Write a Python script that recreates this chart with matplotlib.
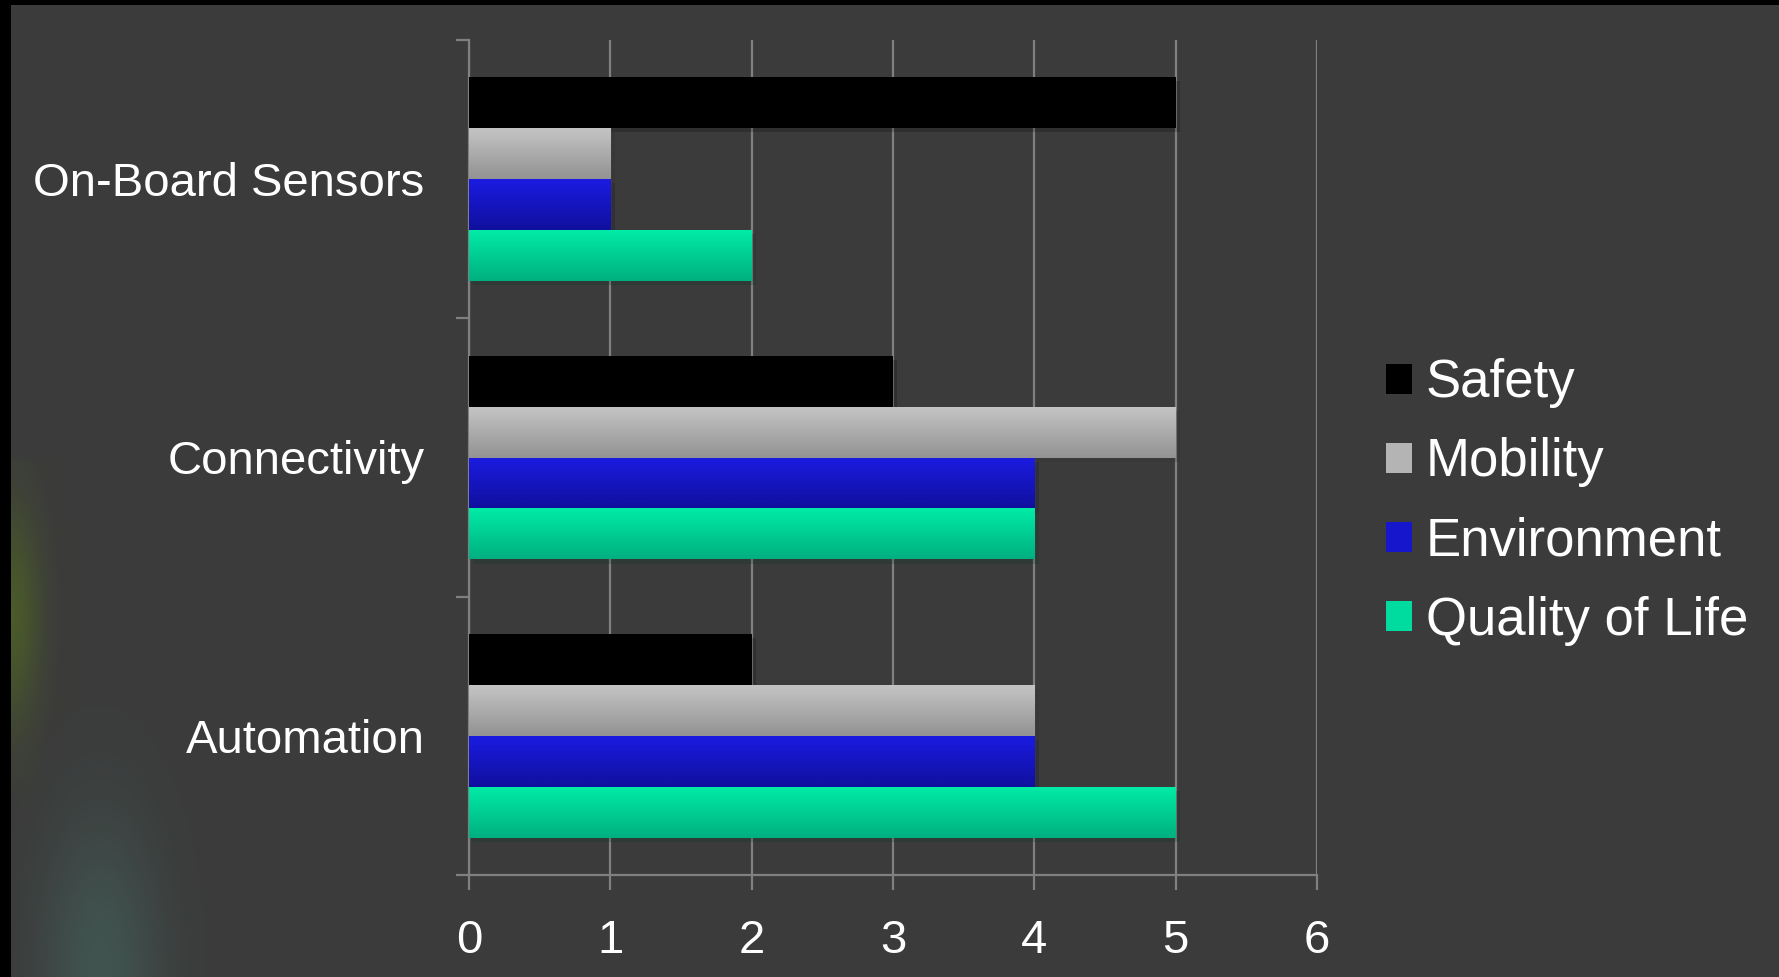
import numpy as np
import matplotlib
matplotlib.use("Agg")
import matplotlib.pyplot as plt
from matplotlib.colors import to_rgb
from matplotlib.patches import Rectangle
import matplotlib.patheffects as pe

# chart data
categories = ["Automation", "Connectivity", "On-Board Sensors"]  # bottom -> top
series = ["Safety", "Mobility", "Environment", "Quality of Life"]
safety = [2, 3, 5]
mobility = [4, 5, 1]
environment = [4, 4, 1]
quality_of_life = [5, 4, 2]
x_ticks = [0, 1, 2, 3, 4, 5, 6]

values = [safety, mobility, environment, quality_of_life]
# (top colour, bottom colour) of each bar's gradient
grads = [("#000000", "#000000"),
         ("#c4c4c4", "#939393"),
         ("#1b1be2", "#10109e"),
         ("#00eba6", "#00b080")]
legend_cols = ["#000000", "#b4b4b4", "#1616cc", "#00dca0"]

plt.rcParams['font.family'] = ['Liberation Sans', 'DejaVu Sans']

bg = "#3b3b3b"
grid_col = "#808080"
W, H = 1779, 977
fig = plt.figure(figsize=(W / 100, H / 100), dpi=100)
fig.patch.set_facecolor(bg)

# black frame on top / left edge
fig.patches.append(Rectangle((0, 1 - 5 / H), 1, 5 / H, transform=fig.transFigure,
                             facecolor="black", edgecolor="none", zorder=0))
fig.patches.append(Rectangle((0, 0), 11 / W, 1, transform=fig.transFigure,
                             facecolor="black", edgecolor="none", zorder=0))

# faint green / teal smoke glow in the lower left corner
deco = fig.add_axes([0, 0, 260 / W, 520 / H], zorder=0)
deco.set_axis_off()
yy, xx = np.mgrid[0:520, 0:260]
glow1 = np.exp(-(((xx - 100) / 60.0) ** 2 + ((yy - 10) / 150.0) ** 2))
glow2 = np.exp(-(((xx - 10) / 30.0) ** 2 + ((yy - 360) / 110.0) ** 2))
img = np.zeros((520, 260, 4))
img[..., :3] = np.array(to_rgb("#4a7a70"))
img[..., 3] = 0.4 * glow1
img2 = np.zeros((520, 260, 4))
img2[..., :3] = np.array(to_rgb("#5a7a18"))
img2[..., 3] = 0.5 * glow2
deco.imshow(img, origin="lower", extent=[0, 260, 0, 520], aspect="auto")
deco.imshow(img2, origin="lower", extent=[0, 260, 0, 520], aspect="auto")
deco.set_xlim(0, 260)
deco.set_ylim(0, 520)

ax = fig.add_axes([469 / W, 1 - 875 / H, (1317 - 469) / W, (875 - 40) / H], zorder=1)
ax.set_facecolor("none")

y = np.arange(len(categories))
h = 0.183
offsets = [1.5 * h, 0.5 * h, -0.5 * h, -1.5 * h]

for vals, off, (ctop, cbot), name in zip(values, offsets, grads, series):
    bars = ax.barh(y + off, vals, height=h, color=cbot, edgecolor="none",
                   label=name, zorder=3)
    for rect in bars:
        rect.set_path_effects([pe.SimplePatchShadow(offset=(3, -3), alpha=0.2),
                               pe.Normal()])
        x0, y0 = rect.get_x(), rect.get_y()
        w, hh = rect.get_width(), rect.get_height()
        t = np.linspace(0, 1, 64)[:, None]
        grad = (1 - t) * np.array(to_rgb(cbot)) + t * np.array(to_rgb(ctop))
        grad = np.repeat(grad[:, None, :], 2, axis=1)
        im = ax.imshow(grad, origin="lower", extent=[x0, x0 + w, y0, y0 + hh],
                       aspect="auto", zorder=4, interpolation="bilinear")
        im.set_clip_path(rect)

ax.set_xlim(0, 6)
ax.set_ylim(-0.5, 2.5)

ax.set_xticks(x_ticks)
ax.set_xticklabels([str(v) for v in x_ticks])
ax.xaxis.grid(True, color=grid_col, linewidth=1.6, zorder=0)
ax.set_axisbelow(True)

ax.set_yticks(y)
ax.set_yticklabels(categories)
ax.set_yticks(np.arange(-0.5, len(categories)), minor=True)
ax.tick_params(axis="y", which="major", length=0, pad=32, labelsize=34, labelcolor="white")
ax.tick_params(axis="y", which="minor", length=9.5, width=1.6, color=grid_col, direction="out")
ax.tick_params(axis="x", which="major", length=11, width=1.6, color=grid_col,
               direction="out", pad=21, labelsize=34, labelcolor="white")

for side in ["top", "right"]:
    ax.spines[side].set_visible(False)
for side in ["left", "bottom"]:
    ax.spines[side].set_color(grid_col)
    ax.spines[side].set_linewidth(1.6)

handles, labels = ax.get_legend_handles_labels()
leg = fig.legend(handles, labels, loc="center left",
                 bbox_to_anchor=(1386 / W, 1 - 502 / H), frameon=False,
                 fontsize=38, handlelength=0.5, handleheight=0.5,
                 handletextpad=0.25, labelspacing=0.55, borderpad=0,
                 borderaxespad=0)
for txt in leg.get_texts():
    txt.set_color("white")
for hnd, col in zip(leg.legend_handles, legend_cols):
    hnd.set_path_effects([])
    hnd.set_facecolor(col)

fig.savefig("out.png", dpi=100, facecolor=fig.get_facecolor())
